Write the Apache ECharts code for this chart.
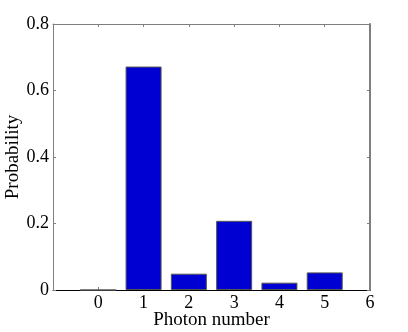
<!DOCTYPE html>
<html>
<head>
<meta charset="utf-8">
<script src="https://cdn.jsdelivr.net/npm/echarts@6/dist/echarts.min.js"></script>
<style>
  html, body { margin: 0; padding: 0; background: #fff; }
  #chart { width: 408px; height: 332px; }
</style>
</head>
<body>
<div id="chart"></div>
<script>
const photonNumbers = [0, 1, 2, 3, 4, 5]
const probabilities = [0, 0.672, 0.049, 0.208, 0.022, 0.053]
const yTicks = [0, 0.2, 0.4, 0.6, 0.8]

const font = "'Liberation Serif', 'DejaVu Serif', serif"
const axisGray = '#7f7f7f'

const chart = echarts.init(document.getElementById('chart'))

const barData = photonNumbers.map((n, i) => [n, probabilities[i]])

const option = {
  animation: false,
  backgroundColor: '#fff',
  grid: { left: 53, right: 38, top: 24, bottom: 42, containLabel: false, outerBoundsMode: 'none' },
  xAxis: [{
    type: 'value',
    min: -1,
    max: 6,
    interval: 1,
    name: 'Photon number',
    nameLocation: 'middle',
    nameGap: 21,
    nameMoveOverlap: false,
    nameTextStyle: { fontFamily: font, fontSize: 19, color: '#000' },
    axisLine: { show: true, onZero: false, lineStyle: { color: '#000', width: 1 } },
    axisTick: { show: true, inside: true, length: 3, lineStyle: { color: axisGray } },
    axisLabel: {
      fontFamily: font, fontSize: 18, color: '#000', margin: 4,
      formatter: v => (v < 0 ? '' : String(v))
    },
    splitLine: { show: false }
  }, {
    type: 'value',
    position: 'top',
    min: -1,
    max: 6,
    interval: 1,
    axisLine: { show: true, onZero: false, lineStyle: { color: axisGray, width: 1 } },
    axisTick: { show: true, inside: true, length: 3, lineStyle: { color: axisGray } },
    axisLabel: { show: false },
    splitLine: { show: false }
  }],
  yAxis: [{
    type: 'value',
    min: yTicks[0],
    max: yTicks[yTicks.length - 1],
    interval: 0.2,
    name: 'Probability',
    nameLocation: 'middle',
    nameGap: 30,
    nameMoveOverlap: false,
    nameTextStyle: { fontFamily: font, fontSize: 19, color: '#000' },
    axisLine: { show: true, onZero: false, lineStyle: { color: axisGray, width: 1 } },
    axisTick: { show: true, inside: true, length: 3, lineStyle: { color: axisGray } },
    axisLabel: { fontFamily: font, fontSize: 18, color: '#000', margin: 4 },
    splitLine: { show: false }
  }, {
    type: 'value',
    position: 'right',
    min: yTicks[0],
    max: yTicks[yTicks.length - 1],
    interval: 0.2,
    axisLine: { show: true, onZero: false, lineStyle: { color: axisGray, width: 2 } },
    axisTick: { show: true, inside: true, length: 3, lineStyle: { color: axisGray } },
    axisLabel: { show: false },
    splitLine: { show: false }
  }],
  series: [{
    type: 'bar',
    xAxisIndex: 0,
    yAxisIndex: 0,
    barWidth: 36,
    data: barData,
    itemStyle: { color: '#0000d2', borderColor: '#555', borderWidth: 1 }
  }]
}

chart.setOption(option)
</script>
</body>
</html>
